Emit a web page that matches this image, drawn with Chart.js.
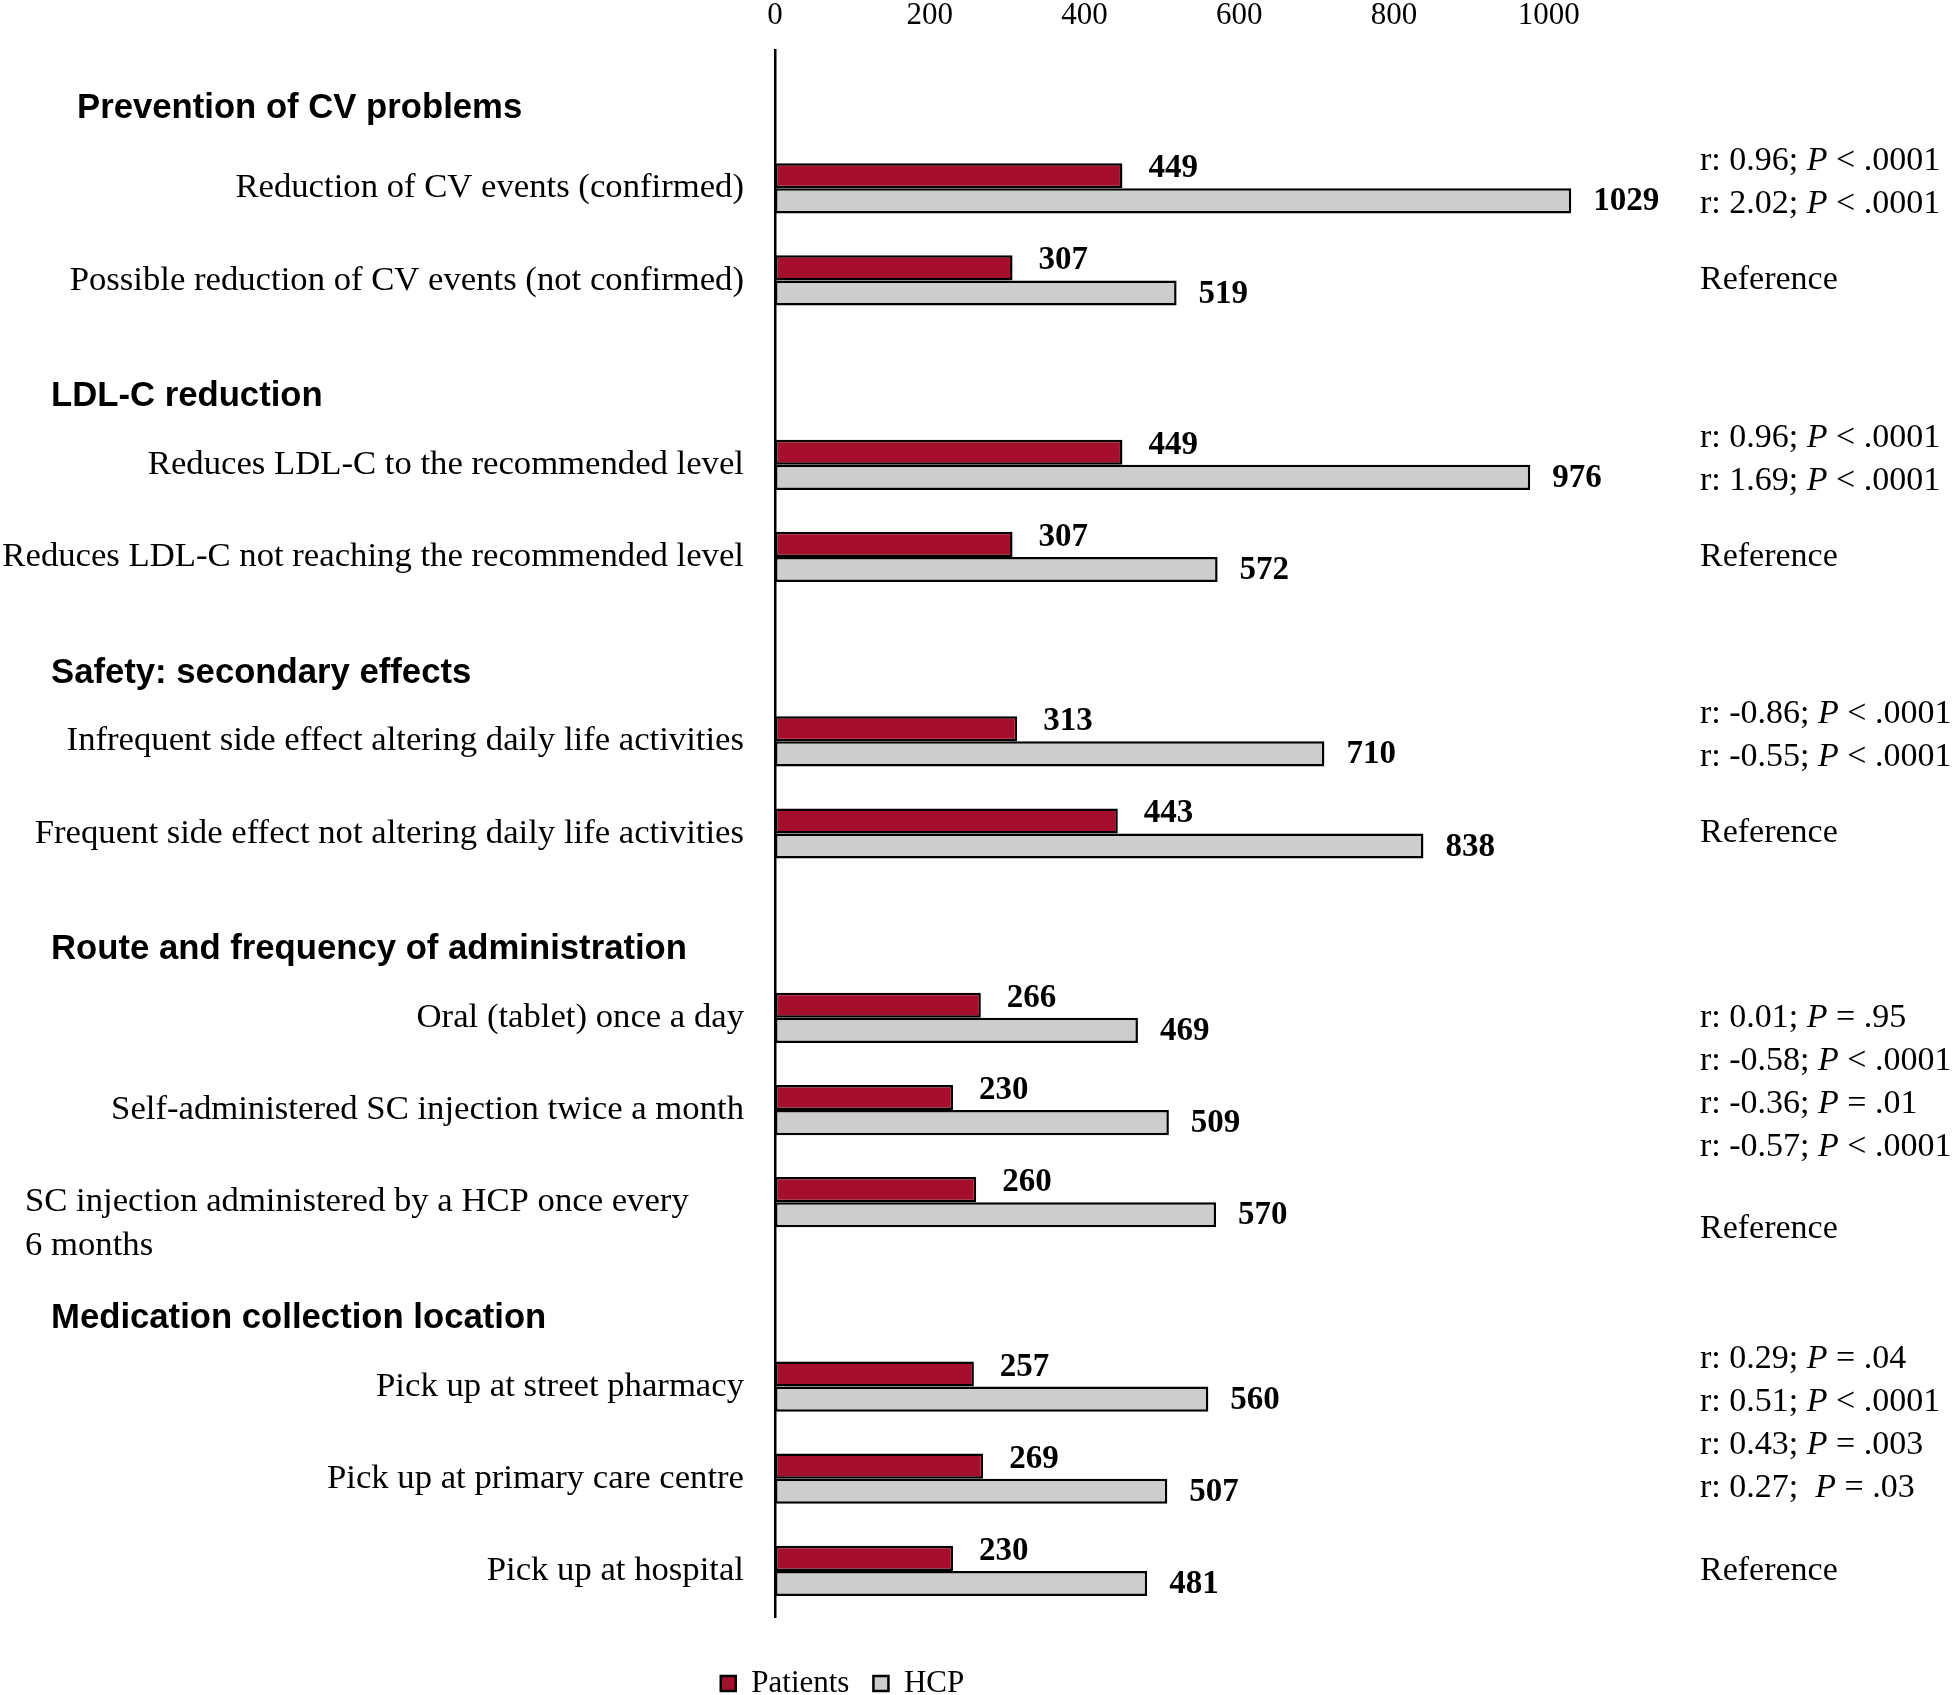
<!DOCTYPE html>
<html>
<head>
<meta charset="utf-8">
<script src="https://cdn.jsdelivr.net/npm/chart.js@4/dist/chart.umd.min.js"></script>
<style>
  body { margin: 0; background: #fff; }
  #wrap { width: 1955px; height: 1695px; }
</style>
</head>
<body>
<div id="wrap"><canvas id="myChart"></canvas></div>
<script>
const groups = [
  'Prevention of CV problems',
  'LDL-C reduction',
  'Safety: secondary effects',
  'Route and frequency of administration',
  'Medication collection location'
];
const categories = [
  'Reduction of CV events (confirmed)',
  'Possible reduction of CV events (not confirmed)',
  'Reduces LDL-C to the recommended level',
  'Reduces LDL-C not reaching the recommended level',
  'Infrequent side effect altering daily life activities',
  'Frequent side effect not altering daily life activities',
  'Oral (tablet) once a day',
  'Self-administered SC injection twice a month',
  ['SC injection administered by a HCP once every', '6 months'],
  'Pick up at street pharmacy',
  'Pick up at primary care centre',
  'Pick up at hospital'
];
const groupOf = [0, 0, 1, 1, 2, 2, 3, 3, 3, 4, 4, 4];
const patients = [449, 307, 449, 307, 313, 443, 266, 230, 260, 257, 269, 230];
const hcp = [1029, 519, 976, 572, 710, 838, 469, 509, 570, 560, 507, 481];
const xTicks = [0, 200, 400, 600, 800, 1000];
const stats = [
  ['r: 0.96; P < .0001', 'r: 2.02; P < .0001'],
  ['Reference'],
  ['r: 0.96; P < .0001', 'r: 1.69; P < .0001'],
  ['Reference'],
  ['r: -0.86; P < .0001', 'r: -0.55; P < .0001'],
  ['Reference'],
  ['r: 0.01; P = .95', 'r: -0.58; P < .0001', 'r: -0.36; P = .01', 'r: -0.57; P < .0001'],
  [],
  ['Reference'],
  ['r: 0.29; P = .04', 'r: 0.51; P < .0001', 'r: 0.43; P = .003', 'r: 0.27;  P = .03'],
  [],
  ['Reference']
];

// one empty slot per group heading, then its rows
let labels = [], pData = [], hData = [], slotStats = [], isHeader = [], slotGroup = [];
groups.forEach((g, gi) => {
  labels.push(g); pData.push(null); hData.push(null); slotStats.push([]); isHeader.push(true); slotGroup.push(gi);
  categories.forEach((c, ci) => {
    if (groupOf[ci] !== gi) return;
    labels.push(c); pData.push(patients[ci]); hData.push(hcp[ci]);
    slotStats.push(stats[ci]); isHeader.push(false); slotGroup.push(gi);
  });
});
// groups holding a two-line row label have their r/P column pushed down a bit
const tallGroup = groups.map((g, gi) => categories.some((c, ci) => groupOf[ci] === gi && Array.isArray(c)));

const serif = '"Liberation Serif", "Times New Roman", serif';
const sans = '"Liberation Sans", Arial, sans-serif';

const extras = {
  id: 'extras',
  afterDatasetsDraw(chart) {
    const ctx = chart.ctx;
    const y = chart.scales.y;
    ctx.save();
    ctx.fillStyle = '#000';
    ctx.textBaseline = 'middle';

    // values next to bars
    ctx.font = 'bold 33px ' + serif;
    ctx.textAlign = 'left';
    chart.data.datasets.forEach((ds, di) => {
      chart.getDatasetMeta(di).data.forEach((bar, i) => {
        if (ds.data[i] == null) return;
        const dx = di === 0 ? 26 : 22;
        const dy = di === 0 ? -7 : 1;
        ctx.fillText(ds.data[i], bar.x + dx, bar.y + dy);
      });
    });

    // row labels and group headings
    labels.forEach((lab, i) => {
      const py = y.getPixelForValue(i);
      if (isHeader[i]) {
        ctx.font = 'bold 34.7px ' + sans;
        ctx.textAlign = 'left';
        ctx.fillText(lab, i === 0 ? 77 : 51, py + (i === 0 ? 12 : 24));
      } else if (Array.isArray(lab)) {
        ctx.font = '34.7px ' + serif;
        ctx.textAlign = 'left';
        lab.forEach((l, k) => ctx.fillText(l, 25, py + k * 44));
      } else {
        ctx.font = '34.7px ' + serif;
        ctx.textAlign = 'right';
        ctx.fillText(lab, 744, py);
      }
    });

    // r / P column on the right, P in italics
    ctx.textAlign = 'left';
    slotStats.forEach((lines, i) => {
      if (!lines.length) return;
      const py = y.getPixelForValue(i) + (tallGroup[slotGroup[i]] ? 27 : 0);
      const start = lines.length === 1 ? py : py - 27;
      lines.forEach((line, k) => {
        let x = 1700;
        const ly = start + k * 43;
        line.split('P').forEach((part, pi) => {
          if (pi > 0) {
            ctx.font = 'italic 34px ' + serif;
            ctx.fillText('P', x, ly);
            x += ctx.measureText('P').width;
          }
          ctx.font = '34px ' + serif;
          ctx.fillText(part, x, ly);
          x += ctx.measureText(part).width;
        });
      });
    });
    ctx.restore();
  }
};

const ctx = document.getElementById('myChart').getContext('2d');
const myChart = new Chart(ctx, {
  type: 'bar',
  data: {
    labels: labels,
    datasets: [{
      label: 'Patients',
      data: pData,
      backgroundColor: '#A50F2D',
      borderColor: '#000',
      borderWidth: 2.5,
      borderSkipped: false
    }, {
      label: 'HCP',
      data: hData,
      backgroundColor: '#CDCDCD',
      borderColor: '#000',
      borderWidth: 2.5,
      borderSkipped: false
    }]
  },
  options: {
    indexAxis: 'y',
    responsive: true,
    maintainAspectRatio: false,
    animation: false,
    devicePixelRatio: 1,
    categoryPercentage: 0.545,
    barPercentage: 1.0,
    layout: { padding: { left: 0, right: 270, top: -19, bottom: -14 } },
    scales: {
      x: {
        position: 'top',
        min: 0,
        max: 1176,
        grid: { display: false, drawTicks: false },
        border: { display: false },
        afterBuildTicks: s => { s.ticks = xTicks.map(v => ({ value: v })); },
        ticks: {
          padding: 19,
          color: '#000',
          font: { family: serif, size: 31, lineHeight: 1 },
          callback: v => String(v)
        }
      },
      y: {
        grid: { display: false },
        border: { display: true, color: '#000', width: 2.5 },
        ticks: { display: false },
        afterFit: s => { s.width = 775; }
      }
    },
    plugins: {
      tooltip: { enabled: false },
      legend: {
        position: 'bottom',
        title: { display: true, text: '', padding: { top: 0, bottom: 26 }, font: { size: 1, lineHeight: 1 } },
        labels: {
          boxWidth: 15,
          boxHeight: 15,
          padding: 24,
          color: '#000',
          font: { family: serif, size: 31 }
        }
      }
    }
  },
  plugins: [extras]
});
</script>
</body>
</html>
